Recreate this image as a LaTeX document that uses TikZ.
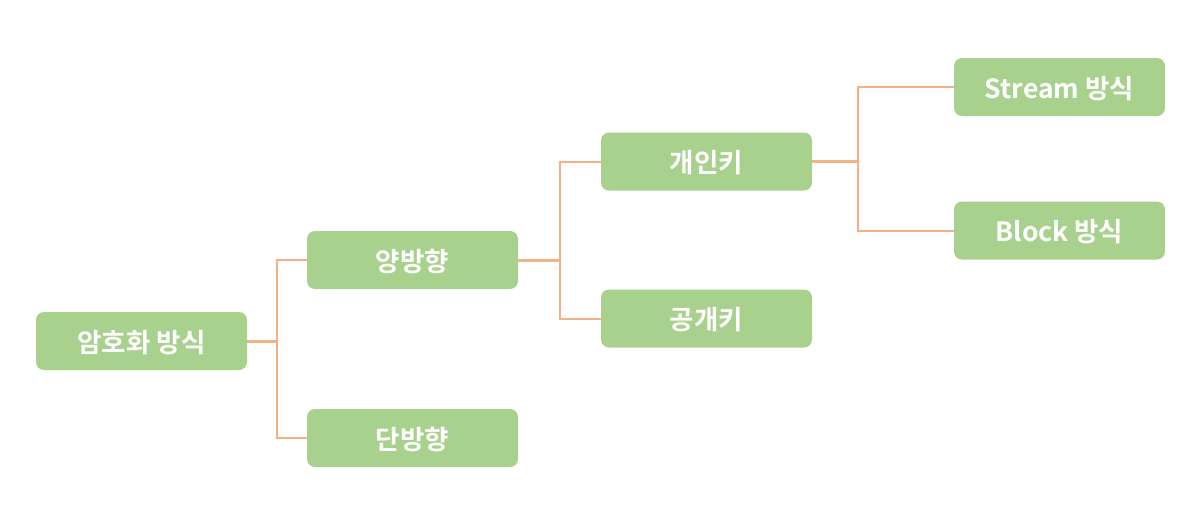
\documentclass[tikz,border=0pt]{standalone}
\usepackage{fontspec}
\setmainfont{Noto Sans CJK KR}[BoldFont={Noto Sans CJK KR Bold}]
\begin{document}
\begin{tikzpicture}[x=1pt,y=-1pt,
  box/.style={draw=none,fill={rgb,255:red,169;green,209;blue,142},rounded corners=8pt,
    minimum width=211pt,minimum height=58pt,inner sep=0pt,text=white,
    font=\fontsize{26.5}{28}\selectfont\bfseries},
  lbl/.style={yshift=-1.5pt},
  trunk/.style={draw={rgb,255:red,244;green,177;blue,131},line width=3pt},
  branch/.style={draw={rgb,255:red,244;green,177;blue,131},line width=2pt}]
\useasboundingbox (0,0) rectangle (1184,523);
\node[box] (root) at (141.5,341) {};
\node[box] (bi) at (412.5,260) {};
\node[box] (uni) at (412.5,438) {};
\node[box] (priv) at (706.5,161.5) {};
\node[box] (pub) at (706.5,318.5) {};
\node[box] (stream) at (1059.5,87) {};
\node[box] (block) at (1059.5,230.5) {};
\node[box,fill=none,lbl] (troot) at (root) {암호화 방식};
\node[box,fill=none,lbl] (tbi) at (bi) {양방향};
\node[box,fill=none,lbl] (tuni) at (uni) {단방향};
\node[box,fill=none,lbl] (tpriv) at (priv) {개인키};
\node[box,fill=none,lbl] (tpub) at (pub) {공개키};
\node[box,fill=none,lbl] (tstream) at (stream) {Stream 방식};
\node[box,fill=none,lbl] (tblock) at (block) {Block 방식};
\coordinate (j1) at (277,341);
\coordinate (j2) at (560,260);
\coordinate (j3) at (858,161.5);
\draw[trunk] (root.east) -- (j1);
\draw[branch] (bi.west) -| (j1) |- (uni.west);
\draw[trunk] (bi.east) -- (j2);
\draw[branch] (priv.west) -| (j2) |- (pub.west);
\draw[trunk] (priv.east) -- (j3);
\draw[branch] (stream.west) -| (j3) |- (block.west);
\end{tikzpicture}
\end{document}
